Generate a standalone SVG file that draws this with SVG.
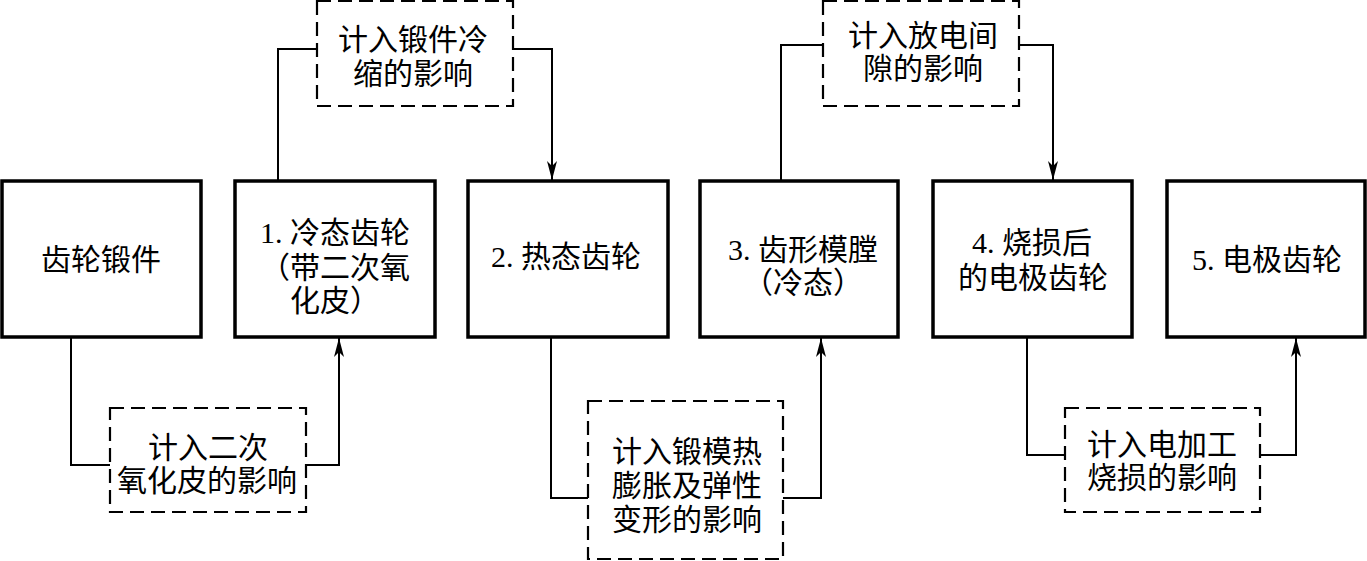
<svg xmlns="http://www.w3.org/2000/svg" width="1367" height="561" viewBox="0 0 1367 561">
<defs>
<style>
.box{fill:#fff;stroke:#000;stroke-width:3.5}
.dbox{fill:#fff;stroke:#000;stroke-width:2.2;stroke-dasharray:14 7}
.con{fill:none;stroke:#000;stroke-width:2}
text{font-family:"Liberation Serif","Noto Sans CJK SC",serif;font-size:30px;fill:#000;text-anchor:middle}
</style>
<marker id="arr" markerWidth="20" markerHeight="10" refX="19" refY="5" orient="auto" markerUnits="userSpaceOnUse" viewBox="0 0 20 10">
<path d="M0,0 L19,5 L0,10 L5,5 Z" fill="#000"/>
</marker>
</defs>
<rect width="1367" height="561" fill="#fff"/>
<g id="connectors">
<polyline class="con" points="278,181 278,49 317,49"/>
<polyline class="con" points="513,49 552,49 552,180" marker-end="url(#arr)"/>
<polyline class="con" points="781,181 781,45 823,45"/>
<polyline class="con" points="1019,45 1053,45 1053,180" marker-end="url(#arr)"/>
<polyline class="con" points="71,337 71,465 110,465"/>
<polyline class="con" points="306,465 339,465 339,338" marker-end="url(#arr)"/>
<polyline class="con" points="551,337 551,498 588,498"/>
<polyline class="con" points="783,498 821,498 821,338" marker-end="url(#arr)"/>
<polyline class="con" points="1027,337 1027,455 1065,455"/>
<polyline class="con" points="1260,455 1296,455 1296,338" marker-end="url(#arr)"/>
</g>
<g id="n0"><rect class="box" x="2" y="181" width="199" height="156"/><text x="101" y="270">齿轮锻件</text></g>
<g id="n1"><rect class="box" x="235" y="181" width="200" height="156"/><text x="335" y="243">1. 冷态齿轮</text><text x="335" y="278">（带二次氧</text><text x="335" y="311">化皮）</text></g>
<g id="n2"><rect class="box" x="468" y="181" width="200" height="156"/><text x="566" y="267">2. 热态齿轮</text></g>
<g id="n3"><rect class="box" x="700" y="181" width="198" height="156"/><text x="803" y="260">3. 齿形模膛</text><text x="803" y="293">（冷态）</text></g>
<g id="n4"><rect class="box" x="933" y="181" width="199" height="156"/><text x="1032" y="253">4. 烧损后</text><text x="1033" y="288">的电极齿轮</text></g>
<g id="n5"><rect class="box" x="1167" y="181" width="198" height="156"/><text x="1267" y="270">5. 电极齿轮</text></g>
<g id="d1"><rect class="dbox" x="317" y="1" width="196" height="105"/><text x="413" y="50">计入锻件冷</text><text x="413" y="84">缩的影响</text></g>
<g id="d2"><rect class="dbox" x="823" y="1" width="196" height="105"/><text x="923" y="46">计入放电间</text><text x="923" y="79">隙的影响</text></g>
<g id="d3"><rect class="dbox" x="110" y="408" width="196" height="104"/><text x="208" y="458">计入二次</text><text x="207" y="491">氧化皮的影响</text></g>
<g id="d4"><rect class="dbox" x="588" y="401" width="195" height="158"/><text x="687" y="462">计入锻模热</text><text x="687" y="496">膨胀及弹性</text><text x="687" y="530">变形的影响</text></g>
<g id="d5"><rect class="dbox" x="1065" y="408" width="195" height="104"/><text x="1162" y="455">计入电加工</text><text x="1162" y="488">烧损的影响</text></g>
</svg>
